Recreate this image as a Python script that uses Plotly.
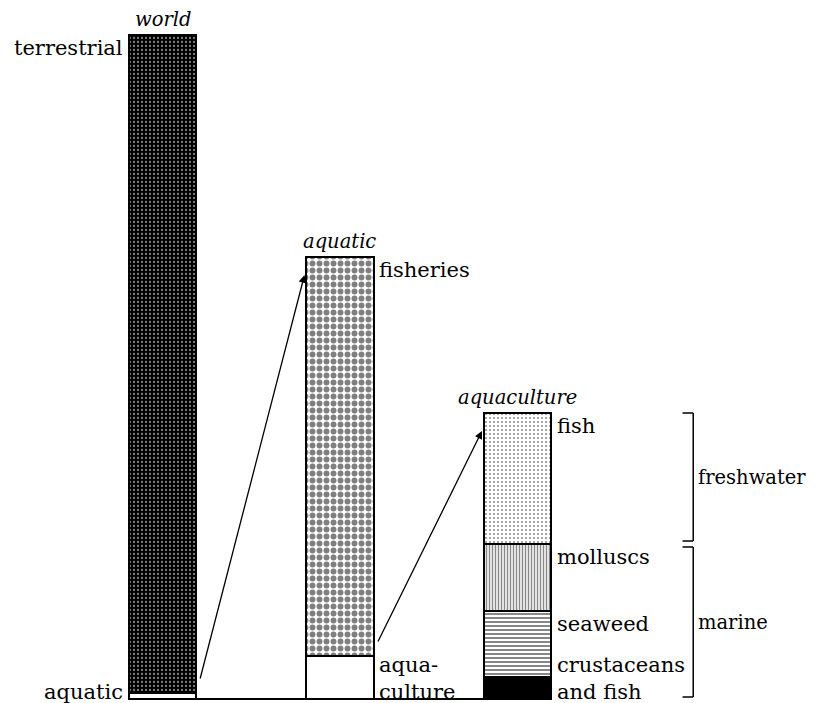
import plotly.graph_objects as go

# ---------------- data (relative heights as drawn; each bar has its own scale) ----------------
bars = ["world", "aquatic", "aquaculture"]

world_segments = ["aquatic", "terrestrial"]
world_values = [6, 658]

aquatic_segments = ["aqua-<br>culture", "fisheries"]
aquatic_values = [43, 399]

aquaculture_segments = ["crustaceans<br>and fish", "seaweed", "molluscs", "fish"]
aquaculture_values = [22, 66, 67, 131]

groups = ["marine", "freshwater"]
group_sizes = [3, 1]  # number of aquaculture segments (from bottom) in each group

# ---------------- styles ----------------
FONT = "DejaVu Serif"
BAR_W = 0.38
LINE = dict(color="black", width=2)

styles = {
    ("world", 0): dict(color="white", pattern=None),
    ("world", 1): dict(color="#000000", pattern=dict(shape=".", bgcolor="#000000", fgcolor="white",
                                                     size=4, solidity=0.25)),
    ("aquatic", 0): dict(color="white", pattern=None),
    ("aquatic", 1): dict(color="white", pattern=dict(shape=".", bgcolor="white", fgcolor="black",
                                                     size=7, solidity=0.55)),
    ("aquaculture", 0): dict(color="black", pattern=None),
    ("aquaculture", 1): dict(color="white", pattern=dict(shape="-", bgcolor="white", fgcolor="#111",
                                                         size=4, solidity=0.5)),
    ("aquaculture", 2): dict(color="white", pattern=dict(shape="|", bgcolor="white", fgcolor="#111",
                                                         size=3, solidity=0.5)),
    ("aquaculture", 3): dict(color="white", pattern=dict(shape=".", bgcolor="white", fgcolor="#222",
                                                         size=4, solidity=0.22)),
}

fig = go.Figure()

series = [
    ("world", world_segments, world_values, "left"),
    ("aquatic", aquatic_segments, aquatic_values, "right"),
    ("aquaculture", aquaculture_segments, aquaculture_values, "right"),
]

annotations = []
for bi, (bar, segs, vals, side) in enumerate(series):
    cum = 0
    for si, (seg, v) in enumerate(zip(segs, vals)):
        st = styles[(bar, si)]
        marker = dict(color=st["color"], line=LINE)
        if st["pattern"]:
            marker["pattern"] = st["pattern"]
        fig.add_trace(go.Bar(x=[bar], y=[v], width=BAR_W, marker=marker,
                             name=seg.replace("<br>", " "), showlegend=False, hoverinfo="skip"))
        top = cum + v
        if side == "left":
            lx, xa = bi - BAR_W / 2 - 0.02, "right"
        else:
            lx, xa = bi + BAR_W / 2 + 0.02, "left"
        if si == 0:
            ly, ya = -7, "bottom"
        else:
            ly, ya = top + 1, "top"
        annotations.append(dict(x=lx, y=ly, xref="x", yref="y", text=seg, showarrow=False,
                                xanchor=xa, yanchor=ya, align="left",
                                font=dict(family=FONT, size=21, color="black")))
        cum = top
    # bar title
    annotations.append(dict(x=bi, y=sum(vals) + 2, xref="x", yref="y", text=f"<i>{bar}</i>",
                            showarrow=False, xanchor="center", yanchor="bottom",
                            font=dict(family=FONT, size=19.5, color="black")))

# arrows: from the small bottom segment of one bar to the top of the next bar
for bi in range(2):
    _, segs, vals, _ = series[bi]
    _, _, nvals, _ = series[bi + 1]
    annotations.append(dict(
        x=bi + 1 - BAR_W / 2 - 0.01, y=sum(nvals) - 18, xref="x", yref="y",
        ax=bi + BAR_W / 2 + 0.02, ay=vals[0] + 13, axref="x", ayref="y",
        showarrow=True, arrowhead=2, arrowsize=1.2, arrowwidth=1.3, arrowcolor="black",
        standoff=0, startstandoff=0, text=""))

# baseline + brackets grouping aquaculture segments
shapes = [dict(type="line", xref="x", yref="y", x0=0, x1=2, y0=0, y1=0,
               line=dict(color="black", width=2), layer="below")]
bx = 2.99
tick = 0.06
start = 0
bounds = []
for g, n in zip(groups, group_sizes):
    lo = sum(aquaculture_values[:start])
    hi = sum(aquaculture_values[:start + n])
    start += n
    bounds.append((g, lo, hi))
for gi, (g, lo, hi) in enumerate(bounds):
    y0 = lo + (2 if gi == 0 else 3)
    y1 = hi - (3 if gi == 0 else 0)
    for (xa0, ya0, xa1, ya1) in [(bx, y0, bx, y1), (bx - tick, y0, bx, y0), (bx - tick, y1, bx, y1)]:
        shapes.append(dict(type="line", xref="x", yref="y", x0=xa0, y0=ya0, x1=xa1, y1=ya1,
                           line=dict(color="black", width=1.5)))
    annotations.append(dict(x=bx + 0.015, y=(y0 + y1) / 2, xref="x", yref="y", text=g,
                            showarrow=False, xanchor="left", yanchor="middle",
                            font=dict(family=FONT, size=19.5, color="black")))

# the page places the figure 8px from the top-left corner; ranges account for that offset
fig.update_layout(
    width=816, height=703, autosize=False,
    margin=dict(l=0, r=0, t=0, b=0),
    paper_bgcolor="white", plot_bgcolor="white",
    barmode="stack", bargap=0,
    xaxis=dict(type="category", categoryorder="array", categoryarray=bars,
               range=[-0.8704, 3.7268], visible=False),
    yaxis=dict(range=[-12, 691], visible=False),
    annotations=annotations, shapes=shapes,
)

fig.write_html("out.html")
